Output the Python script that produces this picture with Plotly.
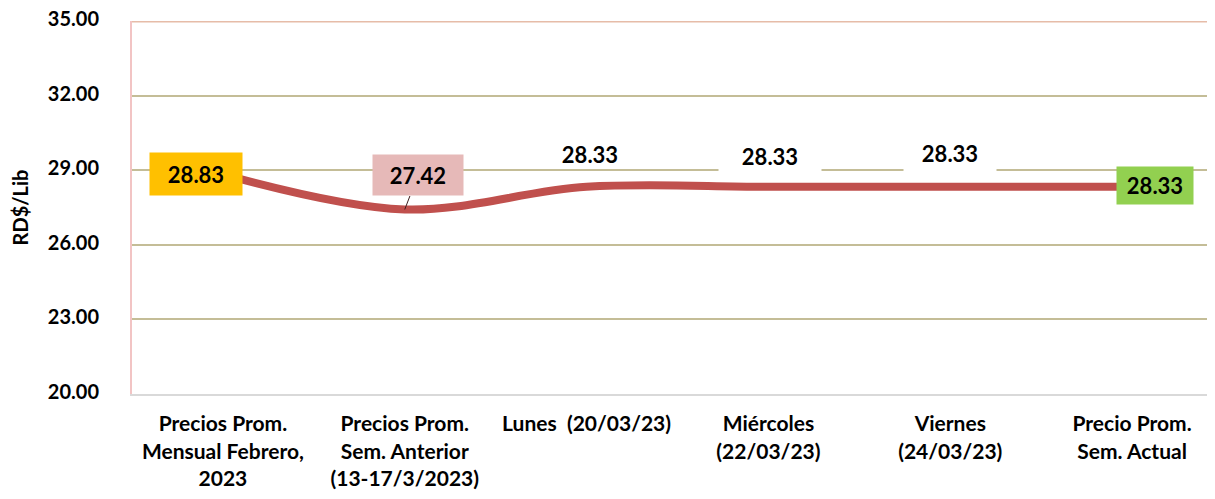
import plotly.graph_objects as go

categories = ["Precios Prom.<br>Mensual Febrero,<br>2023",
              "Precios Prom.<br>Sem. Anterior<br>(13-17/3/2023)",
              "Lunes  (20/03/23)",
              "Miércoles<br>(22/03/23)",
              "Viernes<br>(24/03/23)",
              "Precio Prom.<br>Sem. Actual"]
values = [28.83, 27.42, 28.33, 28.33, 28.33, 28.33]
y_ticks = [20, 23, 26, 29, 32, 35]
y_ticktext = ["20.00", "23.00", "26.00", "29.00", "32.00", "35.00"]

FONT = "Lato"
x = list(range(len(values)))

fig = go.Figure()
fig.add_trace(go.Scatter(
    x=x, y=values, mode="lines",
    line=dict(color="#C0504D", width=8, shape="spline", smoothing=1.0),
    hoverinfo="skip", showlegend=False,
))

# label styling per point
label_bg = ["#FFC000", "#E6B9B8", "rgba(0,0,0,0)", "#FFFFFF", "#FFFFFF", "#92D050"]
label_w = [90, 88, 70, 100, 90, 74]
label_h = [40, 38, 26, 36, 38, 35]
xshift = [-27, 13, 3, 2, 0, 23]
yshift = [0, 34, 33, 31, 34, 1]

annotations = []
for i, v in enumerate(values):
    txt = f"<b>{v:.2f}</b>"
    if i == 1:
        annotations.append(dict(
            x=i, y=v, xref="x", yref="y", text=txt,
            showarrow=True, arrowhead=0, arrowwidth=1, arrowcolor="#3F1F1F",
            ax=xshift[i], ay=-yshift[i], standoff=0,
            bgcolor=label_bg[i], width=label_w[i], height=label_h[i],
            borderpad=1, font=dict(family=FONT, size=22, color="black"),
        ))
    else:
        annotations.append(dict(
            x=i, y=v, xref="x", yref="y", text=txt, showarrow=False,
            xshift=xshift[i], yshift=yshift[i],
            bgcolor=label_bg[i], width=label_w[i], height=label_h[i],
            borderpad=1, font=dict(family=FONT, size=22, color="black"),
        ))

fig.update_layout(
    width=1215, height=499,
    margin=dict(l=124, r=0, t=13, b=113),
    paper_bgcolor="white", plot_bgcolor="white",
    font=dict(family=FONT, color="black"),
    annotations=annotations,
    xaxis=dict(
        range=[-0.5, 5.5], tickvals=x,
        ticktext=[f"<b>{c}</b>" for c in categories],
        tickfont=dict(family=FONT, size=21, color="black"),
        showgrid=False, zeroline=False,
        showline=True, linecolor="#D9D9D9", linewidth=2,
        ticks="outside", ticklen=10, tickcolor="rgba(0,0,0,0)",
        ticklabeloverflow="allow",
        automargin=False, fixedrange=True,
    ),
    yaxis=dict(
        range=[20, 35], tickvals=y_ticks, ticktext=[f"<b>{t}</b>" for t in y_ticktext],
        tickfont=dict(family=FONT, size=20, color="black"),
        showgrid=True, gridcolor="#C4BD97", gridwidth=2,
        zeroline=False,
        showline=True, linecolor="#F2C4C4", linewidth=2,
        ticks="outside", ticklen=27, tickcolor="rgba(0,0,0,0)",
        ticklabeloverflow="allow", ticklabelshift=-2,
        title=dict(text="<b>RD$/Lib</b>", font=dict(family=FONT, size=20, color="black"),
                   standoff=16),
        automargin=False, fixedrange=True,
    ),
    shapes=[dict(type="line", xref="paper", yref="y", x0=0, x1=1, y0=35, y1=35,
                 line=dict(color="#E6BCA8", width=3), layer="below")],
)

fig.write_html("out.html")
